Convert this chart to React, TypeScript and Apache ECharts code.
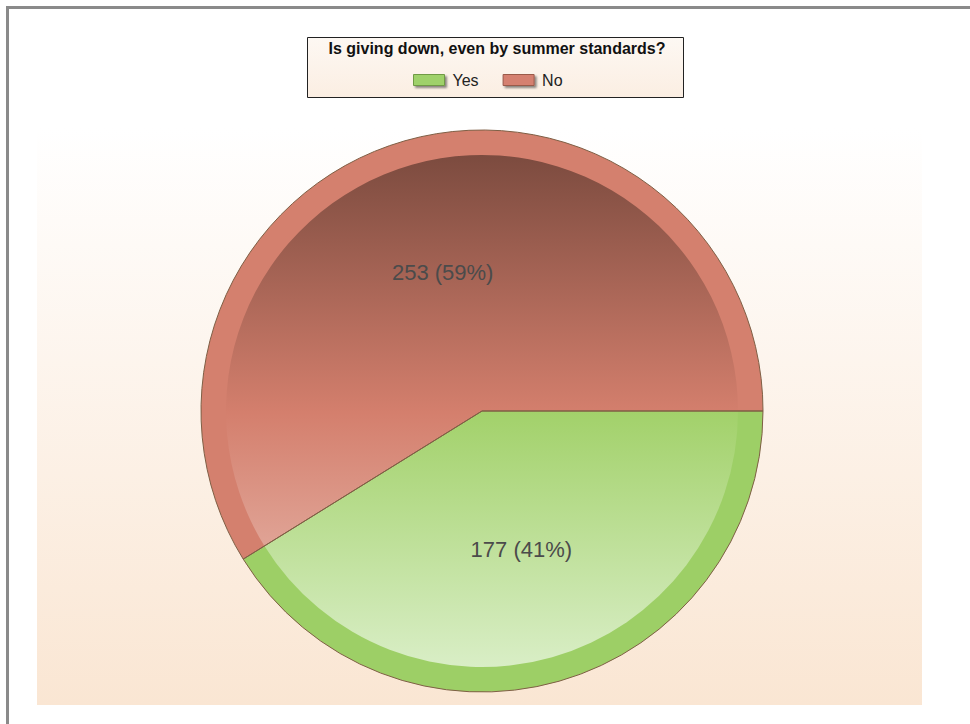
import React, { useEffect, useRef } from "react";
import * as echarts from "echarts";

const categories = ["Yes", "No"];
const values = [177, 253];
const titleText = "Is giving down, even by summer standards?";

const rimColors = ["#9dcf66", "#d4806e"];
const legendColors = ["#9fd16a", "#d5806f"];
const legendBorders = ["#6f9a45", "#9a5a4a"];

export default function App() {
  const ref = useRef<HTMLDivElement>(null);
  useEffect(() => {
    if (!ref.current) return;
    const chart = echarts.init(ref.current, undefined, { renderer: "svg" });
    const cx = 482;
    const cy = 411;
    const R = 281;
    const r = 256;
    const grads = [
      new echarts.graphic.LinearGradient(0, cy, 0, cy + r, [
        { offset: 0, color: "#a2d16a" },
        { offset: 1, color: "#d9eec6" },
      ], true),
      new echarts.graphic.LinearGradient(0, cy - r, 0, cy + 160, [
        { offset: 0, color: "#7c4b3f" },
        { offset: 0.62, color: "#d47f6d" },
        { offset: 1, color: "#e2aa9d" },
      ], true),
    ];
    const total = values.reduce((a, b) => a + b, 0);
    const option: any = {
      animation: false,
      graphic: [
        { type: "rect", shape: { x: 6, y: 6, width: 970, height: 3 }, style: { fill: "#8a8a8a" }, z: 0 },
        { type: "rect", shape: { x: 6, y: 6, width: 3, height: 724 }, style: { fill: "#8a8a8a" }, z: 0 },
        {
          type: "rect",
          shape: { x: 37, y: 128, width: 885, height: 577 },
          style: {
            fill: new echarts.graphic.LinearGradient(0, 0, 0, 1, [
              { offset: 0, color: "#ffffff" },
              { offset: 1, color: "#fae6d3" },
            ]),
          },
          z: -10,
          silent: true,
        },
        {
          type: "rect",
          shape: { x: 307.5, y: 37.5, width: 376, height: 60 },
          style: {
            fill: new echarts.graphic.LinearGradient(0, 0, 0, 1, [
              { offset: 0, color: "#fdf8f3" },
              { offset: 1, color: "#fbeee2" },
            ]),
            stroke: "#222222",
            lineWidth: 1,
          },
          z: 0,
        },
        {
          type: "text",
          x: 497,
          y: 48,
          style: {
            text: titleText,
            fill: "#111111",
            font: "bold 16px 'Liberation Sans', Arial, sans-serif",
            align: "center",
            verticalAlign: "middle",
          },
          z: 1,
        },
      ],
      legend: {
        data: categories.map((c, i) => ({
          name: c,
          itemStyle: {
            color: legendColors[i],
            borderColor: legendBorders[i],
            borderWidth: 1,
            shadowBlur: 2,
            shadowOffsetX: 2,
            shadowOffsetY: 2,
            shadowColor: "rgba(0,0,0,0.45)",
          },
        })),
        left: 413,
        top: 72,
        icon: "rect",
        itemWidth: 31,
        itemHeight: 11,
        itemGap: 24,
        padding: 0,
        textStyle: { fontSize: 16, color: "#222", fontFamily: "'Liberation Sans', Arial, sans-serif", padding: [0, 0, 0, 3] },
        selectedMode: false,
        z: 5,
      },
      series: [
        {
          name: "rim",
          type: "pie",
          center: [cx, cy],
          radius: [0, R],
          startAngle: 0,
          clockwise: true,
          silent: true,
          label: { show: false },
          labelLine: { show: false },
          data: categories.map((c, i) => ({ name: c, value: values[i], itemStyle: { color: rimColors[i] } })),
          z: 1,
        },
        {
          name: "inner",
          type: "pie",
          center: [cx, cy],
          radius: [0, r],
          startAngle: 0,
          clockwise: true,
          silent: true,
          label: { show: false },
          labelLine: { show: false },
          data: categories.map((c, i) => ({ name: c, value: values[i], itemStyle: { color: grads[i] } })),
          z: 2,
        },
        {
          name: "outline",
          type: "pie",
          center: [cx, cy],
          radius: [0, R],
          startAngle: 0,
          clockwise: true,
          silent: true,
          itemStyle: { color: "rgba(0,0,0,0)", borderColor: "#7f5f45", borderWidth: 1 },
          label: {
            show: true,
            position: "inside",
            formatter: (p: any) => `${p.value} (${Math.round((p.value / total) * 100)}%)`,
            fontSize: 22,
            color: "#4b4b4b",
            fontFamily: "'Liberation Sans', Arial, sans-serif",
          },
          labelLine: { show: false },
          data: categories.map((c, i) => ({ name: c, value: values[i] })),
          z: 3,
        },
      ],
    };
    chart.setOption(option);
    return () => chart.dispose();
  }, []);
  return (
    <div
      ref={ref}
      style={{ position: "absolute", left: 0, top: 0, width: 970, height: 724, background: "#ffffff" }}
    />
  );
}
